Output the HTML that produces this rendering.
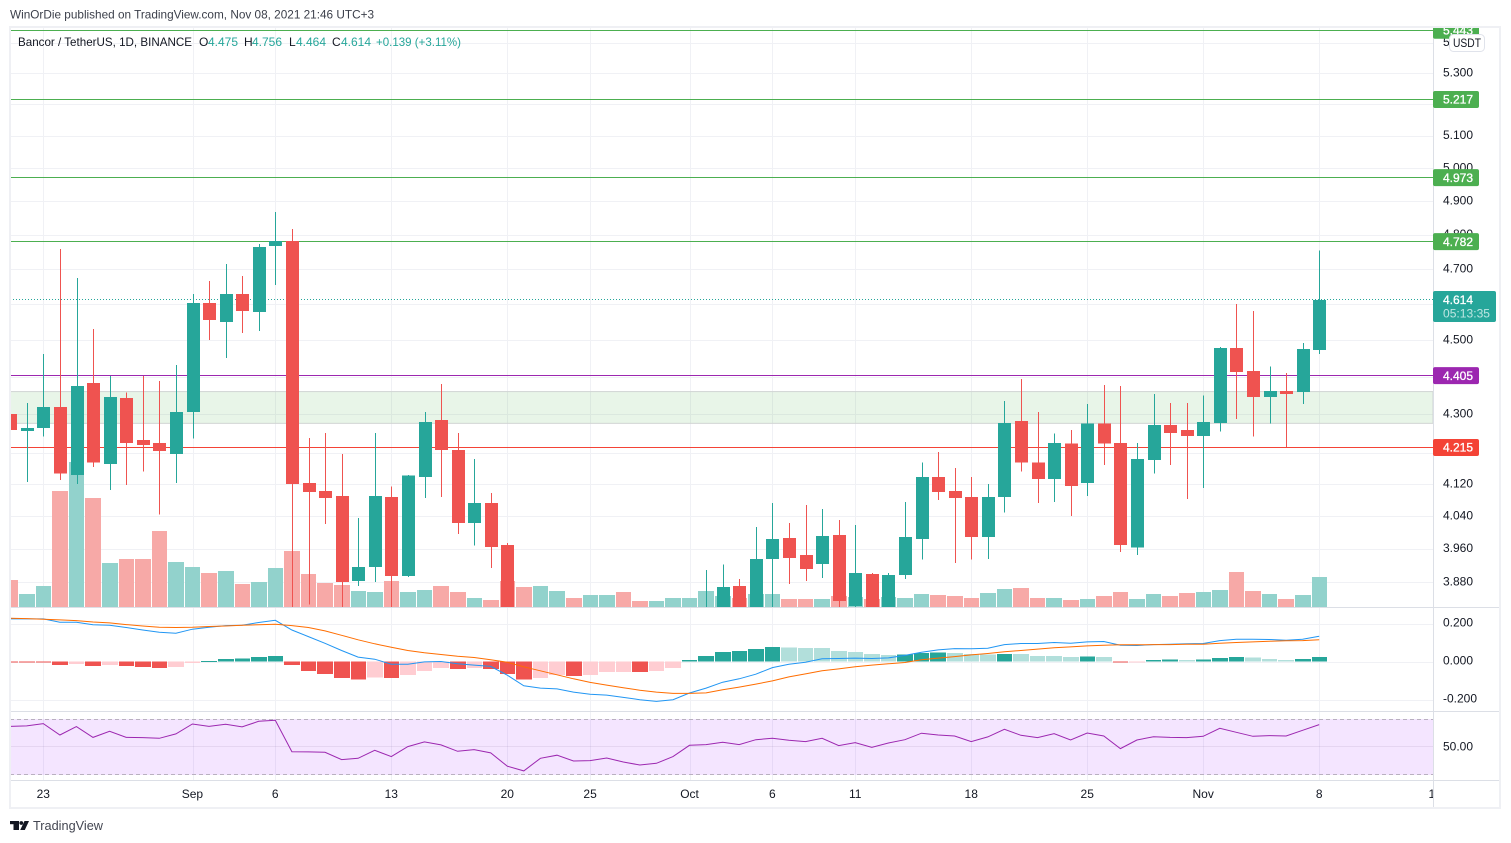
<!DOCTYPE html>
<html lang="en">
<head>
<meta charset="utf-8">
<title>Bancor / TetherUS, 1D, BINANCE</title>
<style>
html,body{margin:0;padding:0;background:#fff;width:1511px;height:843px;overflow:hidden}
svg{display:block;font-family:"Liberation Sans",sans-serif;font-size:12px}
</style>
</head>
<body>
<svg id="chart" width="1511" height="843" viewBox="0 0 1511 843" xmlns="http://www.w3.org/2000/svg">
  <defs>
    <clipPath id="main-clip"><rect x="10" y="28" width="1423" height="579"/></clipPath>
    <clipPath id="macd-clip"><rect x="10" y="608" width="1423" height="103"/></clipPath>
    <clipPath id="rsi-clip"><rect x="10" y="712" width="1423" height="68"/></clipPath>
    <clipPath id="axis-clip"><rect x="1433" y="27" width="67" height="753"/></clipPath>
    <clipPath id="time-clip"><rect x="10" y="781" width="1423" height="26"/></clipPath>
  </defs>
  <rect x="0" y="0" width="1511" height="843" fill="#ffffff"/>
  <text x="10" y="18.5" fill="#3b3f4a" textLength="364" lengthAdjust="spacingAndGlyphs">WinOrDie published on TradingView.com, Nov 08, 2021 21:46 UTC+3</text>
  <g id="grid" shape-rendering="crispEdges"></g>
  <g id="rsi-pane" clip-path="url(#rsi-clip)"></g>
  <g id="macd-pane" clip-path="url(#macd-clip)"></g>
  <g id="main-pane" clip-path="url(#main-clip)"></g>
  <g shape-rendering="crispEdges" stroke="#dcdfe6" stroke-width="1">
    <line x1="10" x2="1501" y1="607.5" y2="607.5"/>
    <line x1="10" x2="1501" y1="711.5" y2="711.5"/>
    <line x1="10" x2="1501" y1="780.5" y2="780.5"/>
    <line x1="1433.5" x2="1433.5" y1="27" y2="808"/>
  </g>
  <g id="price-axis" clip-path="url(#axis-clip)"></g>
  <g id="time-axis" clip-path="url(#time-clip)"></g>
  <g>
    <rect x="1433" y="291" width="63" height="31" rx="2" fill="#26a69a"/>
    <text x="1443" y="304" fill="#ffffff" stroke="#ffffff" stroke-width="0.3">4.614</text>
    <text x="1443" y="317.5" fill="#bfe6e2" textLength="47" lengthAdjust="spacingAndGlyphs">05:13:35</text>
  </g>
  <g>
    <rect x="1449.5" y="34.5" width="35" height="17" rx="4" fill="#ffffff" stroke="#e0e3eb"/>
    <text x="1453" y="47" fill="#131722" textLength="28" lengthAdjust="spacingAndGlyphs">USDT</text>
  </g>
  <rect x="10" y="27" width="1490" height="781" fill="none" stroke="#eff0f4" stroke-width="2"/>
  <g>
    <text x="18" y="46" fill="#131722" textLength="174" lengthAdjust="spacingAndGlyphs">Bancor / TetherUS, 1D, BINANCE</text>
    <text x="199" y="46" fill="#131722">O</text>
    <text x="208" y="46" fill="#26a69a">4.475</text>
    <text x="244" y="46" fill="#131722">H</text>
    <text x="252" y="46" fill="#26a69a">4.756</text>
    <text x="289" y="46" fill="#131722">L</text>
    <text x="296" y="46" fill="#26a69a">4.464</text>
    <text x="332" y="46" fill="#131722">C</text>
    <text x="341" y="46" fill="#26a69a">4.614</text>
    <text x="376" y="46" fill="#26a69a" textLength="85" lengthAdjust="spacingAndGlyphs">+0.139 (+3.11%)</text>
  </g>
  <g>
    <rect x="10" y="821" width="9" height="3.2" fill="#131722"/>
    <rect x="13.5" y="821" width="5.5" height="9" fill="#131722"/>
    <circle cx="21.3" cy="823" r="1.9" fill="#131722"/>
    <polygon points="24.5,821 29,821 24.8,830 20.2,830" fill="#131722"/>
    <text x="33" y="830" fill="#434651" font-size="13" textLength="70" lengthAdjust="spacingAndGlyphs">TradingView</text>
  </g>
</svg>
<script>
// ---- chart data (top level) ----
const categories = ['Aug 21','Aug 22','Aug 23','Aug 24','Aug 25','Aug 26','Aug 27','Aug 28','Aug 29','Aug 30','Aug 31','Sep 1','Sep 2','Sep 3','Sep 4','Sep 5','Sep 6','Sep 7','Sep 8','Sep 9','Sep 10','Sep 11','Sep 12','Sep 13','Sep 14','Sep 15','Sep 16','Sep 17','Sep 18','Sep 19','Sep 20','Sep 21','Sep 22','Sep 23','Sep 24','Sep 25','Sep 26','Sep 27','Sep 28','Sep 29','Sep 30','Oct 1','Oct 2','Oct 3','Oct 4','Oct 5','Oct 6','Oct 7','Oct 8','Oct 9','Oct 10','Oct 11','Oct 12','Oct 13','Oct 14','Oct 15','Oct 16','Oct 17','Oct 18','Oct 19','Oct 20','Oct 21','Oct 22','Oct 23','Oct 24','Oct 25','Oct 26','Oct 27','Oct 28','Oct 29','Oct 30','Oct 31','Nov 1','Nov 2','Nov 3','Nov 4','Nov 5','Nov 6','Nov 7','Nov 8'];
const opens = [4.303,4.258,4.266,4.321,4.145,4.385,4.173,4.345,4.235,4.227,4.198,4.308,4.605,4.552,4.631,4.580,4.769,4.784,4.125,4.104,4.092,3.884,3.918,4.089,3.896,4.140,4.287,4.209,4.025,4.074,3.971,3.74,3.70,3.73,3.75,3.69,3.71,3.73,3.67,3.65,3.68,3.73,3.77,3.81,3.872,3.81,3.937,3.988,3.947,3.925,3.995,3.825,3.901,3.81,3.898,3.985,4.140,4.104,4.089,3.990,4.089,4.284,4.176,4.135,4.225,4.125,4.277,4.227,3.964,4.183,4.274,4.261,4.245,4.279,4.480,4.418,4.348,4.364,4.361,4.475];
const highs = [4.396,4.332,4.464,4.760,4.677,4.533,4.404,4.359,4.404,4.391,4.434,4.631,4.668,4.717,4.682,4.775,4.869,4.819,4.240,4.253,4.198,4.037,4.253,4.115,4.145,4.308,4.383,4.253,4.186,4.099,3.975,3.79,3.78,3.79,3.77,3.74,3.76,3.75,3.70,3.70,3.76,3.79,3.910,3.923,3.889,4.015,4.074,4.025,4.069,4.059,4.032,4.020,3.903,3.903,4.077,4.176,4.204,4.163,4.140,4.122,4.337,4.396,4.308,4.251,4.261,4.329,4.380,4.377,4.227,4.356,4.332,4.332,4.351,4.483,4.603,4.583,4.429,4.412,4.494,4.756];
const lows = [4.219,4.127,4.243,4.132,4.122,4.165,4.107,4.120,4.153,4.045,4.125,4.238,4.502,4.453,4.522,4.527,4.657,3.816,3.828,4.022,3.811,3.872,3.882,3.811,3.894,4.087,4.089,3.998,3.969,3.915,3.70,3.66,3.67,3.70,3.67,3.66,3.68,3.64,3.62,3.63,3.66,3.70,3.74,3.79,3.78,3.79,3.80,3.877,3.884,3.891,3.80,3.80,3.79,3.79,3.889,3.935,4.082,3.927,3.935,3.937,4.050,4.153,4.074,4.077,4.042,4.092,4.170,3.954,3.947,4.148,4.170,4.084,4.112,4.256,4.290,4.243,4.277,4.217,4.329,4.464];
const closes = [4.261,4.266,4.321,4.148,4.377,4.176,4.348,4.227,4.222,4.206,4.308,4.605,4.558,4.631,4.583,4.766,4.784,4.122,4.102,4.087,3.882,3.918,4.092,3.896,4.143,4.282,4.209,4.025,4.074,3.966,3.74,3.70,3.73,3.75,3.69,3.71,3.73,3.67,3.65,3.68,3.73,3.77,3.81,3.870,3.81,3.937,3.985,3.939,3.913,3.993,3.837,3.903,3.81,3.898,3.990,4.140,4.102,4.087,3.990,4.089,4.279,4.176,4.135,4.227,4.117,4.277,4.225,3.971,4.186,4.274,4.253,4.245,4.282,4.480,4.415,4.348,4.364,4.356,4.478,4.614];
const volumes = [270,130,210,1160,1450,1090,440,480,480,760,450,400,340,360,230,250,390,560,330,240,220,160,150,260,150,170,210,150,90,70,260,200,210,160,90,120,120,150,60,60,90,90,160,110,90,130,130,80,80,80,110,100,80,100,90,130,120,110,90,140,180,190,90,90,70,80,110,150,80,130,110,140,150,170,350,160,130,80,120,300];
const macdValues = [.224,.224,.224,.207,.207,.193,.191,.179,.166,.154,.149,.170,.180,.189,.191,.205,.217,.166,.131,.096,.058,.023,.012,-.014,-.014,-.002,0,-.012,-.019,-.026,-.072,-.128,-.140,-.144,-.161,-.172,-.177,-.189,-.201,-.210,-.201,-.166,-.140,-.109,-.091,-.067,-.032,-.014,-.004,.014,.016,.018,.016,.019,.032,.049,.061,.068,.067,.070,.089,.095,.095,.100,.096,.103,.105,.086,.084,.089,.091,.093,.095,.110,.117,.117,.116,.112,.117,.133];
const signalValues = [.228,.226,.222,.219,.215,.208,.203,.194,.187,.180,.179,.180,.184,.187,.191,.193,.196,.189,.179,.161,.138,.114,.093,.075,.058,.046,.037,.028,.021,.009,-.004,-.028,-.049,-.070,-.091,-.110,-.124,-.138,-.151,-.161,-.168,-.168,-.165,-.149,-.135,-.119,-.102,-.081,-.065,-.049,-.039,-.028,-.019,-.012,-.005,.009,.018,.026,.035,.042,.051,.058,.065,.072,.077,.082,.086,.088,.088,.089,.089,.091,.091,.096,.100,.103,.107,.109,.110,.114];
const histValues = [-.003,-.0035,-.004,-.018,-.012,-.023,-.018,-.023,-.028,-.033,-.028,-.007,.002,.014,.0145,.025,.030,-.018,-.049,-.065,-.086,-.096,-.084,-.086,-.070,-.049,-.033,-.039,-.033,-.039,-.065,-.096,-.086,-.070,-.075,-.070,-.056,-.054,-.056,-.049,-.033,.009,.030,.051,.056,.067,.077,.075,.072,.071,.056,.051,.040,.035,.036,.046,.047,.044,.040,.037,.040,.039,.030,.028,.025,.026,.024,-.0035,-.002,.009,.010,.009,.011,.019,.025,.021,.014,.009,.014,.025];
const rsiValues = [64.5,64.8,66.5,58.2,64.3,56.5,60.9,56.5,56.3,55.8,59.0,66.2,64.5,66.0,64.1,68.2,68.9,46.1,45.9,45.6,40.3,41.3,47.1,42.5,49.8,53.2,51.0,46.4,47.6,45.2,35.5,32.1,41.3,43.5,39.3,39.6,41.5,38.6,36.4,37.6,42.5,50.7,51.2,52.9,51.2,54.8,55.8,54.4,53.4,55.8,50.5,52.7,49.3,52.4,54.8,59.5,58.2,57.5,53.4,56.8,62.4,58.0,56.3,59.2,54.6,59.7,57.5,48.3,54.6,57.0,56.5,56.3,57.3,63.1,60.2,57.3,57.8,57.5,61.6,65.8];
const priceTicks = [5.4,5.3,5.2,5.1,5.0,4.9,4.8,4.7,4.6,4.5,4.4,4.3,4.2,4.12,4.04,3.96,3.88];
const macdTicks = [0.2,0,-0.2];
const rsiTicks = [50];
const rsiBands = [70,30];
const timeTickLabels = ['23','Sep','6','13','20','25','Oct','6','11','18','25','Nov','8','15'];
const timeTickBars = [2,11,16,23,30,35,41,46,51,58,65,72,79,86];
const levelPrices = [5.443,5.217,4.973,4.782,4.405,4.215];
const levelNames = ['level-5-443','level-5-217','level-4-973','level-4-782','level-4-405','level-4-215'];
const levelColors = ['#4caf50','#4caf50','#4caf50','#4caf50','#9c27b0','#f44336'];
const zonePrices = [4.362,4.278];
const lastPrice = 4.614;

// ---- axis functions ----
const NS = 'http://www.w3.org/2000/svg';
const xScale = k => 10.16 + 16.57 * k;
const priceY = p => 582.7 - 1632 * (Math.log(p) - Math.log(3.88));
const volumeY = v => 607 - v * 0.1;
const macdY = v => 661.5 - v * 190;
const rsiY = v => 746.3 - (v - 50) * 1.375;
const barLeft = k => Math.ceil(xScale(k) - 8.1);

function make(parent, tag, attrs, text) {
  const el = document.createElementNS(NS, tag);
  for (const key in attrs) el.setAttribute(key, attrs[key]);
  if (text !== undefined) el.textContent = text;
  parent.appendChild(el);
  return el;
}
const $ = id => document.getElementById(id);
const gridG = $('grid'), mainG = $('main-pane'), macdG = $('macd-pane'), rsiG = $('rsi-pane'), priceAxisG = $('price-axis'), timeAxisG = $('time-axis');
const GRID = '#f0f1f5';

// ---- grid ----
priceTicks.forEach(t => {
  const y = Math.round(priceY(t) - 0.5) + 0.5;
  const el = make(gridG, 'line', {x1: 10, x2: 1433, y1: y, y2: y, stroke: GRID});
  
  
});
macdTicks.forEach(t => {
  const y = Math.round(macdY(t)) + 0.5;
  const el = make(gridG, 'line', {x1: 10, x2: 1433, y1: y, y2: y, stroke: GRID});
  
  
});
timeTickBars.forEach(k => {
  const x = Math.round(xScale(k) + 0.1) + 0.5;
  if (x > 1433) return;
  const el = make(gridG, 'line', {x1: x, x2: x, y1: 27, y2: 780, stroke: GRID});
  
  
});

// ---- levels and zone (under candles) ----
const zoneEl = make(mainG, 'rect', {x: 10, y: priceY(zonePrices[0]), width: 1423, height: priceY(zonePrices[1]) - priceY(zonePrices[0]), fill: 'rgba(76,175,80,0.13)', stroke: '#d0d4d3', 'stroke-width': 1});


levelPrices.forEach((p, i) => {
  const y = Math.round(priceY(p) - 0.5) + 0.5;
  const el = make(mainG, 'line', {x1: 10, x2: 1433, y1: y, y2: y, stroke: levelColors[i], 'shape-rendering': 'crispEdges'});
  
  
});

// ---- volume bars ----
volumes.forEach((v, k) => {
  const up = closes[k] >= opens[k];
  const left = barLeft(k);
  const el = make(mainG, 'rect', {x: left, y: volumeY(v), width: barLeft(k + 1) - 1 - left, height: 607 - volumeY(v), fill: up ? '#92d2cc' : '#f7a9a7', 'shape-rendering': 'crispEdges'});
  
  
});

// ---- last price line ----
const lastY = Math.round(priceY(lastPrice) - 0.5) + 0.5;
const lastLine = make(mainG, 'line', {x1: 10, x2: 1433, y1: lastY, y2: lastY, stroke: '#26a69a', 'stroke-dasharray': '1 2'});



// ---- candles ----
categories.forEach((c, k) => {
  const up = closes[k] >= opens[k];
  const color = up ? '#26a69a' : '#ef5350';
  const cx = Math.round(xScale(k) + 0.1);
  const wick = make(mainG, 'line', {x1: cx + 0.5, x2: cx + 0.5, y1: priceY(highs[k]), y2: priceY(lows[k]), stroke: color, 'shape-rendering': 'crispEdges'});
  
  
  const top = priceY(Math.max(opens[k], closes[k]));
  const bot = priceY(Math.min(opens[k], closes[k]));
  const body = make(mainG, 'rect', {x: cx - 6, y: top, width: 13, height: Math.max(1, bot - top), fill: color, 'shape-rendering': 'crispEdges'});
  
  
});

// ---- MACD ----
histValues.forEach((v, k) => {
  const prev = k ? histValues[k - 1] : 0;
  let color;
  if (v >= 0) color = v > prev ? '#26a69a' : '#b2dfdb';
  else color = v < prev ? '#ef5350' : '#ffcdd2';
  const left = barLeft(k);
  const y0 = macdY(0), y1 = macdY(v);
  const el = make(macdG, 'rect', {x: left, y: Math.min(y0, y1), width: barLeft(k + 1) - 1 - left, height: Math.max(1, Math.abs(y1 - y0)), fill: color, 'shape-rendering': 'crispEdges'});
  
  
});
const macdLine = make(macdG, 'polyline', {fill: 'none', stroke: '#2196f3', 'stroke-width': 1, points: macdValues.map((v, k) => xScale(k).toFixed(1) + ',' + macdY(v).toFixed(1)).join(' ')});


const signalLine = make(macdG, 'polyline', {fill: 'none', stroke: '#ff6d00', 'stroke-width': 1, points: signalValues.map((v, k) => xScale(k).toFixed(1) + ',' + macdY(v).toFixed(1)).join(' ')});



// ---- RSI ----
const rsiFill = make(rsiG, 'rect', {x: 10, y: Math.round(rsiY(rsiBands[0])), width: 1423, height: Math.round(rsiY(rsiBands[1])) - Math.round(rsiY(rsiBands[0])) + 1, fill: 'rgba(152,0,255,0.1)', 'shape-rendering': 'crispEdges'});


rsiBands.forEach(b => {
  const y = Math.round(rsiY(b)) + 0.5;
  const el = make(rsiG, 'line', {x1: 10, x2: 1433, y1: y, y2: y, stroke: '#b9b0c0', 'stroke-dasharray': '4 3', 'shape-rendering': 'crispEdges'});
  
  
});
rsiTicks.forEach(t => {
  const y = Math.round(rsiY(t)) + 0.5;
  const el = make(rsiG, 'line', {x1: 10, x2: 1433, y1: y, y2: y, stroke: 'rgba(120,100,140,0.12)', 'shape-rendering': 'crispEdges'});
  
  
});
const rsiLine = make(rsiG, 'polyline', {fill: 'none', stroke: '#9c27b0', 'stroke-width': 1, points: rsiValues.map((v, k) => xScale(k).toFixed(1) + ',' + rsiY(v).toFixed(1)).join(' ')});



// ---- price axis ----
priceTicks.forEach(t => {
  const el = make(priceAxisG, 'text', {x: 1443, y: priceY(t) + 2.6, fill: '#131722'}, t.toFixed(3));
  
  
});
macdTicks.forEach(t => {
  const el = make(priceAxisG, 'text', {x: 1443, y: macdY(t) + 3, fill: '#131722'}, t.toFixed(3));
  
  
});
rsiTicks.forEach(t => {
  const el = make(priceAxisG, 'text', {x: 1443, y: rsiY(t) + 4, fill: '#131722'}, t.toFixed(2));
  
  
});
levelPrices.forEach((p, i) => {
  const y = priceY(p);
  const box = make(priceAxisG, 'rect', {x: 1433, y: y - 8.5, width: 46, height: 17, rx: 2, fill: levelColors[i]});
  
  
  const label = make(priceAxisG, 'text', {x: 1443, y: y + 4.2, fill: '#ffffff', stroke: '#ffffff', 'stroke-width': 0.3}, p.toFixed(3));
  
  
});

// ---- time axis ----
timeTickBars.forEach((k, i) => {
  const el = make(timeAxisG, 'text', {x: xScale(k), y: 798, fill: '#131722', 'text-anchor': 'middle'}, timeTickLabels[i]);
  
  
});
</script>
</body>
</html>
